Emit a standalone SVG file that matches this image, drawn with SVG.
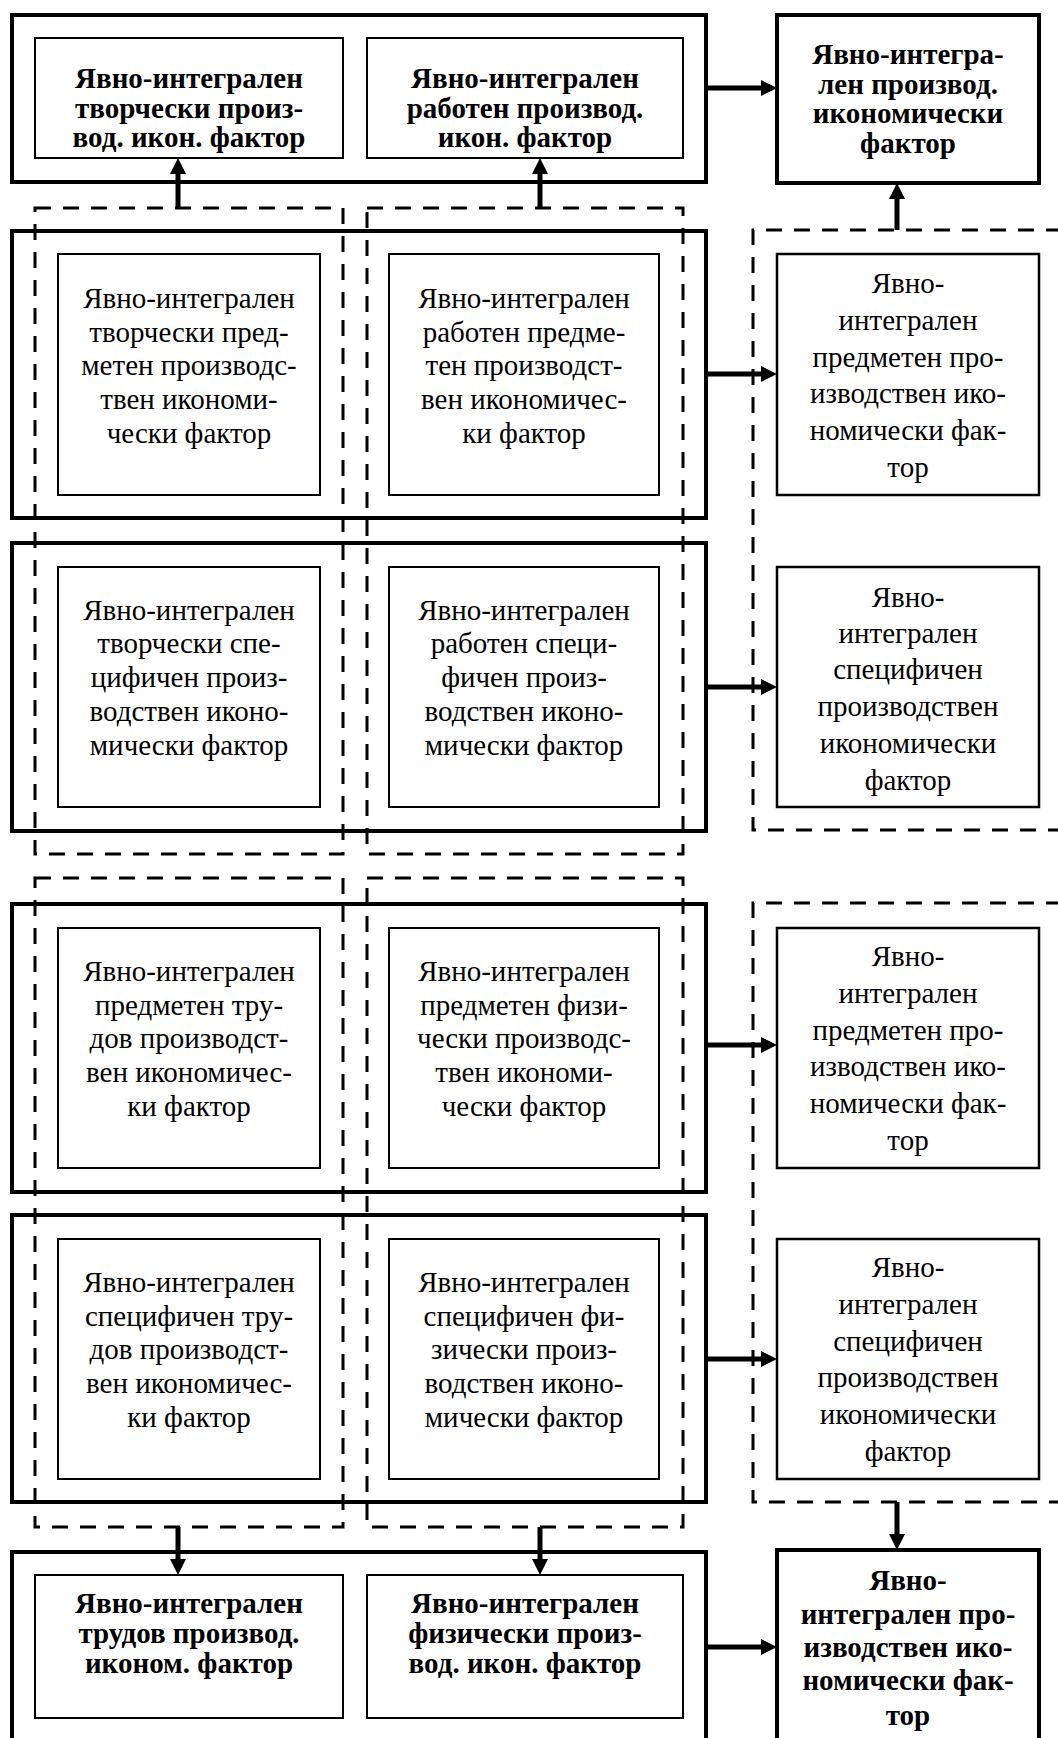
<svg xmlns="http://www.w3.org/2000/svg" width="1058" height="1738" viewBox="0 0 1058 1738">
<style>
.outer{fill:none;stroke:#000;stroke-width:4}
.inner{fill:#fff;stroke:#000;stroke-width:2}
.node{fill:#fff;stroke:#000;stroke-width:2.5}
.bnode{fill:#fff;stroke:#000;stroke-width:4}
.dash{fill:none;stroke:#000;stroke-width:3;stroke-dasharray:16 12}
.arr{fill:none;stroke:#000;stroke-width:5}
text{font-family:"Liberation Serif","Times New Roman",serif;font-size:29px;text-anchor:middle;fill:#000}
.b{font-weight:bold}
</style>
<defs>
<marker id="ah" viewBox="0 0 16 16" refX="5" refY="8" markerWidth="16" markerHeight="16" markerUnits="userSpaceOnUse" orient="auto">
<path d="M0,0 L16,8 L0,16 z" fill="#000"/>
</marker>
</defs>

<g id="frames">
<rect class="outer" x="12" y="15" width="694" height="167"/>
<rect class="outer" x="12" y="231" width="694" height="287"/>
<rect class="outer" x="12" y="543" width="694" height="288"/>
<rect class="outer" x="12" y="904" width="694" height="288"/>
<rect class="outer" x="12" y="1215" width="694" height="287"/>
<rect class="outer" x="12" y="1552" width="694" height="200"/>
<path class="dash" d="M35,208 H343 V854 H35 Z"/>
<path class="dash" d="M367,208 H683 V854 H367 Z"/>
<path class="dash" d="M35,878 H343 V1527 H35 Z"/>
<path class="dash" d="M367,878 H683 V1527 H367 Z"/>
<path class="dash" d="M1062,230 H753 V830 H1062"/>
<path class="dash" d="M1062,903 H753 V1502 H1062"/>
</g>

<g id="connectors">
<line class="arr" x1="178" y1="208" x2="178" y2="169" marker-end="url(#ah)"/>
<line class="arr" x1="540" y1="208" x2="540" y2="169" marker-end="url(#ah)"/>
<line class="arr" x1="897" y1="230" x2="897" y2="194" marker-end="url(#ah)"/>
<line class="arr" x1="706" y1="88" x2="766" y2="88" marker-end="url(#ah)"/>
<line class="arr" x1="706" y1="374" x2="766" y2="374" marker-end="url(#ah)"/>
<line class="arr" x1="706" y1="687" x2="766" y2="687" marker-end="url(#ah)"/>
<line class="arr" x1="706" y1="1045" x2="766" y2="1045" marker-end="url(#ah)"/>
<line class="arr" x1="706" y1="1359" x2="766" y2="1359" marker-end="url(#ah)"/>
<line class="arr" x1="706" y1="1647" x2="766" y2="1647" marker-end="url(#ah)"/>
<line class="arr" x1="178" y1="1527" x2="178" y2="1564" marker-end="url(#ah)"/>
<line class="arr" x1="540" y1="1527" x2="540" y2="1564" marker-end="url(#ah)"/>
<line class="arr" x1="897" y1="1502" x2="897" y2="1539" marker-end="url(#ah)"/>
</g>

<g id="n-top1">
<rect class="inner" x="35" y="38" width="308" height="120"/>
<text class="b" x="189" y="88">Явно-интегрален</text>
<text class="b" x="189" y="118">творчески произ-</text>
<text class="b" x="189" y="147">вод. икон. фактор</text>
</g>
<g id="n-top2">
<rect class="inner" x="367" y="38" width="316" height="120"/>
<text class="b" x="525" y="88">Явно-интегрален</text>
<text class="b" x="525" y="118">работен производ.</text>
<text class="b" x="525" y="147">икон. фактор</text>
</g>
<g id="n-topright">
<rect class="bnode" x="777" y="15" width="262" height="168"/>
<text class="b" x="908" y="64">Явно-интегра-</text>
<text class="b" x="908" y="94">лен производ.</text>
<text class="b" x="908" y="123">икономически</text>
<text class="b" x="908" y="153">фактор</text>
</g>

<g id="n-r1a">
<rect class="inner" x="58" y="254" width="262" height="241"/>
<text x="189" y="308">Явно-интегрален</text>
<text x="189" y="342">творчески пред-</text>
<text x="189" y="375">метен производс-</text>
<text x="189" y="409">твен икономи-</text>
<text x="189" y="443">чески фактор</text>
</g>
<g id="n-r1b">
<rect class="inner" x="389" y="254" width="270" height="241"/>
<text x="524" y="308">Явно-интегрален</text>
<text x="524" y="342">работен предме-</text>
<text x="524" y="375">тен производст-</text>
<text x="524" y="409">вен икономичес-</text>
<text x="524" y="443">ки фактор</text>
</g>
<g id="n-r1right">
<rect class="node" x="777" y="254" width="262" height="241"/>
<text x="908" y="293">Явно-</text>
<text x="908" y="330">интегрален</text>
<text x="908" y="367">предметен про-</text>
<text x="908" y="403">изводствен ико-</text>
<text x="908" y="440">номически фак-</text>
<text x="908" y="477">тор</text>
</g>

<g id="n-r2a">
<rect class="inner" x="58" y="567" width="262" height="240"/>
<text x="189" y="620">Явно-интегрален</text>
<text x="189" y="653">творчески спе-</text>
<text x="189" y="687">цифичен произ-</text>
<text x="189" y="721">водствен иконо-</text>
<text x="189" y="755">мически фактор</text>
</g>
<g id="n-r2b">
<rect class="inner" x="389" y="567" width="270" height="240"/>
<text x="524" y="620">Явно-интегрален</text>
<text x="524" y="653">работен специ-</text>
<text x="524" y="687">фичен произ-</text>
<text x="524" y="721">водствен иконо-</text>
<text x="524" y="755">мически фактор</text>
</g>
<g id="n-r2right">
<rect class="node" x="777" y="567" width="262" height="240"/>
<text x="908" y="607">Явно-</text>
<text x="908" y="643">интегрален</text>
<text x="908" y="679">специфичен</text>
<text x="908" y="716">производствен</text>
<text x="908" y="753">икономически</text>
<text x="908" y="790">фактор</text>
</g>

<g id="n-r3a">
<rect class="inner" x="58" y="928" width="262" height="240"/>
<text x="189" y="981">Явно-интегрален</text>
<text x="189" y="1015">предметен тру-</text>
<text x="189" y="1048">дов производст-</text>
<text x="189" y="1082">вен икономичес-</text>
<text x="189" y="1116">ки фактор</text>
</g>
<g id="n-r3b">
<rect class="inner" x="389" y="928" width="270" height="240"/>
<text x="524" y="981">Явно-интегрален</text>
<text x="524" y="1015">предметен физи-</text>
<text x="524" y="1048">чески производс-</text>
<text x="524" y="1082">твен икономи-</text>
<text x="524" y="1116">чески фактор</text>
</g>
<g id="n-r3right">
<rect class="node" x="777" y="928" width="262" height="240"/>
<text x="908" y="966">Явно-</text>
<text x="908" y="1003">интегрален</text>
<text x="908" y="1040">предметен про-</text>
<text x="908" y="1076">изводствен ико-</text>
<text x="908" y="1113">номически фак-</text>
<text x="908" y="1150">тор</text>
</g>

<g id="n-r4a">
<rect class="inner" x="58" y="1239" width="262" height="240"/>
<text x="189" y="1292">Явно-интегрален</text>
<text x="189" y="1326">специфичен тру-</text>
<text x="189" y="1359">дов производст-</text>
<text x="189" y="1393">вен икономичес-</text>
<text x="189" y="1427">ки фактор</text>
</g>
<g id="n-r4b">
<rect class="inner" x="389" y="1239" width="270" height="240"/>
<text x="524" y="1292">Явно-интегрален</text>
<text x="524" y="1326">специфичен фи-</text>
<text x="524" y="1359">зически произ-</text>
<text x="524" y="1393">водствен иконо-</text>
<text x="524" y="1427">мически фактор</text>
</g>
<g id="n-r4right">
<rect class="node" x="777" y="1239" width="262" height="240"/>
<text x="908" y="1277">Явно-</text>
<text x="908" y="1314">интегрален</text>
<text x="908" y="1351">специфичен</text>
<text x="908" y="1387">производствен</text>
<text x="908" y="1424">икономически</text>
<text x="908" y="1461">фактор</text>
</g>

<g id="n-bot1">
<rect class="inner" x="35" y="1575" width="308" height="143"/>
<text class="b" x="189" y="1613">Явно-интегрален</text>
<text class="b" x="189" y="1643">трудов производ.</text>
<text class="b" x="189" y="1673">иконом. фактор</text>
</g>
<g id="n-bot2">
<rect class="inner" x="367" y="1575" width="316" height="143"/>
<text class="b" x="525" y="1613">Явно-интегрален</text>
<text class="b" x="525" y="1643">физически произ-</text>
<text class="b" x="525" y="1673">вод. икон. фактор</text>
</g>
<g id="n-botright">
<rect class="bnode" x="777" y="1550" width="262" height="200"/>
<text class="b" x="908" y="1590">Явно-</text>
<text class="b" x="908" y="1624">интегрален про-</text>
<text class="b" x="908" y="1657">изводствен ико-</text>
<text class="b" x="908" y="1690">номически фак-</text>
<text class="b" x="908" y="1725">тор</text>
</g>
</svg>
